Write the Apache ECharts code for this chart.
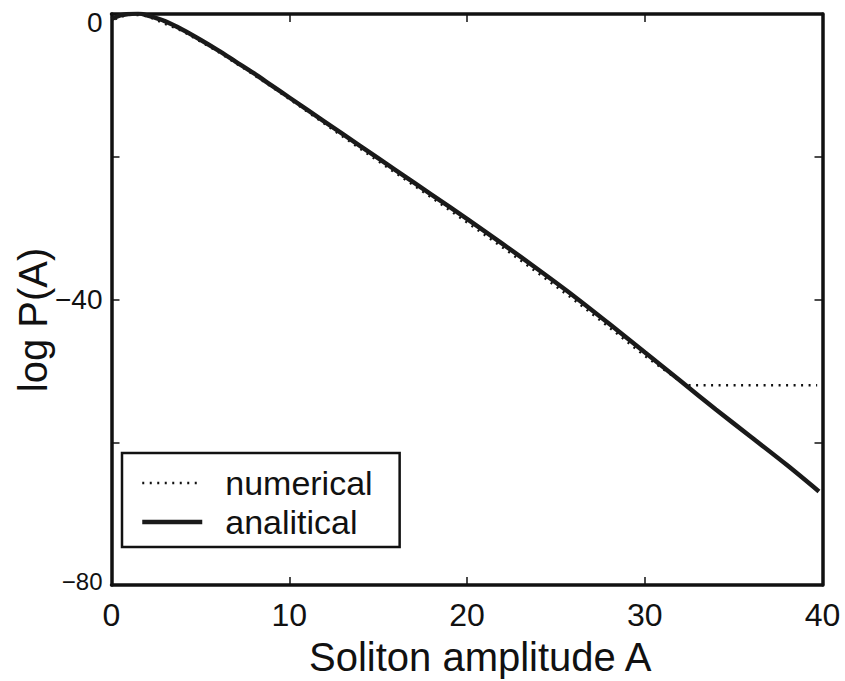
<!DOCTYPE html>
<html>
<head>
<meta charset="utf-8">
<script src="https://cdn.jsdelivr.net/npm/echarts@6/dist/echarts.min.js"></script>
<style>html,body{margin:0;padding:0;background:#fff}#c{width:845px;height:681px}</style>
</head>
<body>
<div id="c"></div>
<script>
// ---- data ----
const ampA       = [0, 0.5, 1, 1.5, 2, 3, 4, 5, 6, 7, 8, 9, 10, 12, 14, 16, 18, 20, 22, 24, 26, 28, 30, 32, 34, 36, 38, 39.8];
const analytical = [-0.7, -0.2, 0, 0.1, -0.2, -1.0, -2.2, -3.6, -5.1, -6.7, -8.3, -10.0, -11.7, -15.1, -18.5, -21.9, -25.3, -28.7, -32.2, -35.8, -39.5, -43.4, -47.4, -51.4, -55.4, -59.3, -63.2, -66.9];
const numA       = [0.2, 1, 2, 4, 6, 8, 10, 12, 14, 16, 18, 20, 22, 24, 26, 28, 30, 32.3, 34, 36, 38, 39.7];
const numerical  = [-0.7, 0, -0.3, -2.4, -5.3, -8.5, -11.9, -15.4, -18.9, -22.3, -25.7, -29.2, -32.7, -36.3, -40.0, -43.9, -47.9, -52.0, -52.0, -52.0, -52.0, -52.0];
const xTickLabels = ['0', '10', '20', '30', '40'];
const yTickLabels = {'0': '0', '-40': '−40', '-80': '−80'};
const seriesNames = ['numerical', 'analitical'];
const xTitle = 'Soliton amplitude A';
const yTitle = 'log P(A)';

const chart = echarts.init(document.getElementById('c'), null, {renderer: 'svg'});
const frame = {show: true, onZero: false, lineStyle: {color: '#111', width: 3.5}};
const tick = {show: true, inside: true, length: 8, lineStyle: {color: '#111', width: 1.5}};
const font = 'Liberation Sans, Arial, Helvetica, sans-serif';
const narrow = 'Liberation Sans Narrow, Liberation Sans, Arial, sans-serif';
const numStyle = {color: '#111', width: 2.5, type: [2, 5.5]};
const anaStyle = {color: '#1a1a1a', width: 4.5, type: 'solid'};

chart.setOption({
  animation: false,
  backgroundColor: '#fff',
  grid: {left: 111.5, right: 22.5, top: 14, bottom: 96},
  xAxis: [
    {type: 'value', min: 0, max: 40, interval: 10, position: 'bottom',
     axisLine: frame, axisTick: tick, splitLine: {show: false},
     axisLabel: {margin: 14, color: '#111', fontFamily: font, fontSize: 32,
       formatter: v => xTickLabels[Math.round(v / 10)]}},
    {type: 'value', min: 0, max: 40, interval: 10, position: 'top',
     axisLine: frame, axisTick: tick, splitLine: {show: false}, axisLabel: {show: false}}
  ],
  yAxis: [
    {type: 'value', min: -80, max: 0, interval: 20, position: 'left',
     axisLine: frame, axisTick: tick, splitLine: {show: false},
     axisLabel: {margin: 9, color: '#111',
       formatter: v => {
         const s = yTickLabels[String(v)];
         if (s === undefined) return '';
         if (v === 0) return '{z|' + s + '}';
         if (v === -40) return '{m|' + s + '}';
         return '{s|' + s + '}';
       },
       rich: {
         z: {fontFamily: font, fontSize: 28, color: '#111', padding: [16, 0, 0, 0]},
         m: {fontFamily: narrow, fontSize: 28, color: '#111'},
         s: {fontFamily: narrow, fontSize: 24, color: '#111', padding: [0, 0, 8, 0]}
       }}},
    {type: 'value', min: -80, max: 0, interval: 20, position: 'right',
     axisLine: frame, axisTick: tick, splitLine: {show: false}, axisLabel: {show: false}}
  ],
  legend: {
    orient: 'vertical', left: 122, top: 453,
    data: [
      {name: seriesNames[0], itemStyle: {opacity: 0}, lineStyle: numStyle},
      {name: seriesNames[1], itemStyle: {opacity: 0}, lineStyle: anaStyle}
    ],
    backgroundColor: '#fff', borderColor: '#111', borderWidth: 2.5,
    padding: [13, 27, 8, 18], itemGap: 5,
    itemWidth: 60, itemHeight: 14,
    textStyle: {fontFamily: font, fontSize: 34, color: '#111', lineHeight: 30, padding: [0, 0, 0, 18]}
  },
  graphic: [
    {type: 'text', left: 309, top: 637, silent: true,
     style: {text: xTitle, font: '40px ' + font, fill: '#111'}},
    {type: 'text', x: 33, y: 320, rotation: Math.PI / 2, silent: true,
     style: {text: yTitle, font: '40px ' + font, fill: '#111', align: 'center', verticalAlign: 'middle'}}
  ],
  series: [
    {name: seriesNames[0], type: 'line', showSymbol: false, symbol: 'none', z: 2,
     data: numA.map((a, i) => [a, numerical[i]]),
     lineStyle: numStyle, itemStyle: {color: '#111'}},
    {name: seriesNames[1], type: 'line', showSymbol: false, symbol: 'none', smooth: 0.3, z: 3,
     data: ampA.map((a, i) => [a, analytical[i]]),
     lineStyle: anaStyle, itemStyle: {color: '#1a1a1a'}}
  ]
});
</script>
</body>
</html>
